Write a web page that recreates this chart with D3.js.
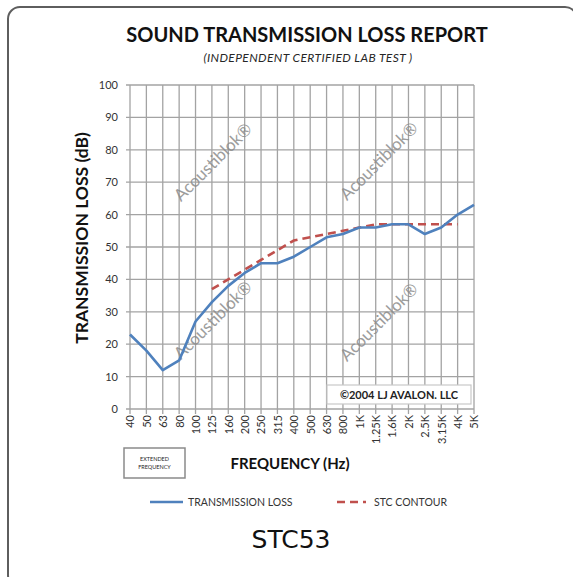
<!DOCTYPE html>
<html>
<head>
<meta charset="utf-8">
<script src="https://cdn.jsdelivr.net/npm/d3@7"></script>
<style>
  body { margin: 0; background: #fff; }
  svg { display: block; }
  text { font-family: Lato, "Open Sans", sans-serif; fill: #262626; }
</style>
</head>
<body>
<svg width="573" height="577"></svg>
<script>

// Datos
let frecuencias = ['40','50','63','80','100','125','160','200','250','315','400','500','630','800','1K','1.25K','1.6K','2K','2.5K','3.15K','4K','5K']
let perdida = [23,18,12,15,27,33,38,42,45,45,47,50,53,54,56,56,57,57,54,56,60,63]
let stc_frec = ['125','160','200','250','315','400','500','630','800','1K','1.25K','1.6K','2K','2.5K','3.15K','4K']
let stc_valores = [37,40,43,46,49,52,53,54,55,56,57,57,57,57,57,57]
let y_ticks = [0,10,20,30,40,50,60,70,80,90,100]


let svg = d3.select('svg')

// Marco (cortado a la derecha y abajo, como en la captura)
svg.append('rect')
  .attr('x', 8).attr('y', 7)
  .attr('width', 569).attr('height', 580)
  .attr('rx', 12)
  .attr('fill', '#fff')
  .attr('stroke', '#5e5e5e')
  .attr('stroke-width', 2)

svg.append('text')
  .attr('x', 307).attr('y', 42)
  .attr('text-anchor', 'middle')
  .style('font-size', '20px').style('font-weight', 'bold')
  .style('fill', '#111')
  .text('SOUND TRANSMISSION LOSS REPORT')

svg.append('text')
  .attr('x', 308).attr('y', 62)
  .attr('text-anchor', 'middle')
  .style('font-size', '12px').style('font-style', 'italic')
  .style('letter-spacing', '0.4px')
  .text('(INDEPENDENT CERTIFIED LAB TEST )')


/* Escalas */

let x = d3.scalePoint().domain(frecuencias).range([130, 474])
let y = d3.scaleLinear().domain([0, 100]).range([409, 85])

let grilla = svg.append('g').attr('class', 'grilla')

grilla.selectAll('line.h')
  .data(y_ticks).enter().append('line')
  .attr('x1', 126).attr('x2', 474)
  .attr('y1', d => y(d)).attr('y2', d => y(d))
  .attr('stroke', '#a3a3a3').attr('stroke-width', 1.3)

grilla.selectAll('line.v')
  .data(frecuencias).enter().append('line')
  .attr('x1', d => x(d)).attr('x2', d => x(d))
  .attr('y1', y(100)).attr('y2', y(0) + 5)
  .attr('stroke', '#a3a3a3').attr('stroke-width', 1.3)

// Ejes
let eje_y = svg.append('g')
  .attr('transform', 'translate(130,0)')
  .call(d3.axisLeft(y).tickValues(y_ticks).tickSize(0).tickPadding(12))
eje_y.select('.domain').remove()
eje_y.selectAll('text')
  .style('font-size', '11px').style('fill', '#333')
  .style('font-family', 'Lato, sans-serif')

let eje_x = svg.append('g')
  .attr('transform', `translate(0,${y(0)})`)
  .call(d3.axisBottom(x).tickSize(0).tickPadding(0))
eje_x.select('.domain').remove()
eje_x.selectAll('text')
  .attr('transform', 'rotate(-90)')
  .attr('x', -6).attr('y', 0).attr('dy', '0.35em')
  .style('text-anchor', 'end')
  .style('font-size', '11px').style('fill', '#333')
  .style('font-family', 'Lato, sans-serif')

svg.append('text')
  .attr('transform', 'translate(88,238) rotate(-90)')
  .attr('text-anchor', 'middle')
  .style('font-size', '17.5px').style('font-weight', 'bold')
  .style('fill', '#111')
  .text('TRANSMISSION LOSS (dB)')

svg.append('text')
  .attr('x', 290).attr('y', 469)
  .attr('text-anchor', 'middle')
  .style('font-size', '15px').style('font-weight', 'bold')
  .style('fill', '#111')
  .text('FREQUENCY (Hz)')


/* Marca de agua */

let marcas = [[213, 162], [379, 161], [213, 320], [379, 322]]
svg.selectAll('text.marca')
  .data(marcas).enter().append('text')
  .attr('class', 'marca')
  .attr('transform', d => `translate(${d[0]},${d[1]}) rotate(-45)`)
  .attr('text-anchor', 'middle').attr('dy', '0.35em')
  .style('font-size', '17px')
  .style('fill', '#8c8c8c').style('opacity', 0.85)
  .text('Acoustiblok®')


/* Copyright */

svg.append('rect')
  .attr('x', 327).attr('y', 385)
  .attr('width', 144).attr('height', 19)
  .attr('fill', '#fff').attr('stroke', '#c8c8c8').attr('stroke-width', 1.2)
svg.append('text')
  .attr('x', 399).attr('y', 398.5)
  .attr('text-anchor', 'middle')
  .style('font-size', '11px').style('font-weight', 'bold')
  .style('fill', '#222')
  .text('©2004 LJ AVALON. LLC')


/* Series */

let linea = d3.line().x(d => x(d[0])).y(d => y(d[1]))

svg.append('path')
  .datum(d3.zip(stc_frec, stc_valores))
  .attr('d', linea)
  .attr('fill', 'none')
  .attr('stroke', '#c0504d').attr('stroke-width', 2.6)
  .attr('stroke-dasharray', '8,5')

svg.append('path')
  .datum(d3.zip(frecuencias, perdida))
  .attr('d', linea)
  .attr('fill', 'none')
  .attr('stroke', '#4f81bd').attr('stroke-width', 2.6)
  .attr('stroke-linejoin', 'round')


/* Caja frecuencia extendida */

svg.append('rect')
  .attr('x', 124).attr('y', 448)
  .attr('width', 61).attr('height', 30)
  .attr('fill', '#fff').attr('stroke', '#8a8a8a').attr('stroke-width', 1.5)
svg.append('text')
  .attr('x', 154.5).attr('y', 461)
  .attr('text-anchor', 'middle')
  .style('font-size', '5.5px')
  .text('EXTENDED')
svg.append('text')
  .attr('x', 154.5).attr('y', 469)
  .attr('text-anchor', 'middle')
  .style('font-size', '5.5px')
  .text('FREQUENCY')


/* Leyenda */

let leyenda = svg.append('g')
leyenda.append('line')
  .attr('x1', 150).attr('x2', 183).attr('y1', 502).attr('y2', 502)
  .attr('stroke', '#4f81bd').attr('stroke-width', 2.6)
leyenda.append('text')
  .attr('x', 188).attr('y', 505.5)
  .style('font-size', '10.5px').style('fill', '#333')
  .text('TRANSMISSION LOSS')
leyenda.append('line')
  .attr('x1', 337).attr('x2', 366).attr('y1', 502).attr('y2', 502)
  .attr('stroke', '#c0504d').attr('stroke-width', 2.6)
  .attr('stroke-dasharray', '8,5')
leyenda.append('text')
  .attr('x', 374).attr('y', 505.5)
  .style('font-size', '10.5px').style('fill', '#333')
  .text('STC CONTOUR')

svg.append('text')
  .attr('x', 291).attr('y', 548)
  .attr('text-anchor', 'middle')
  .style('font-family', '"DejaVu Sans", sans-serif')
  .style('font-size', '25px')
  .style('fill', '#111')
  .text('STC53')

</script>
</body>
</html>
